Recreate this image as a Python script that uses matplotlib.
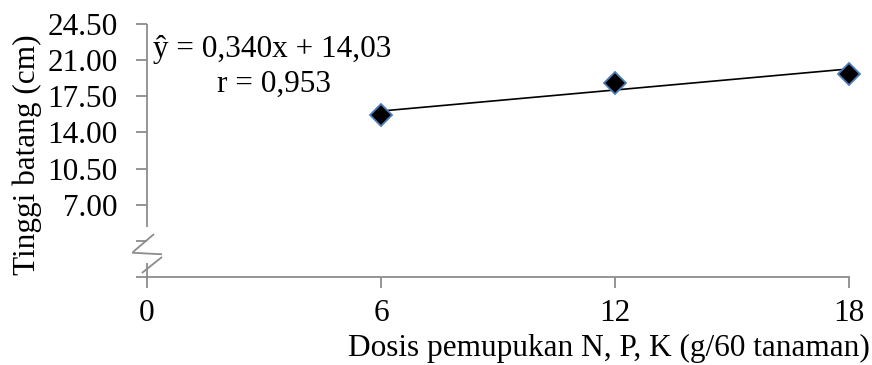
import matplotlib
matplotlib.use("Agg")
import matplotlib.pyplot as plt
import numpy as np

dosis = [6, 12, 18]
tinggi = [15.7, 18.8, 19.7]
slope = 0.340
intercept = 14.03
x_ticks = [0, 6, 12, 18]
y_ticks = [0, 3.5, 7.0, 10.5, 14.0, 17.5, 21.0, 24.5]
y_ticklabels = ["", "", "7.00", "10.50", "14.00", "17.50", "21.00", "24.50"]

FS = 22.5
plt.rcParams['font.family'] = ['Liberation Serif', 'DejaVu Serif']
fig = plt.figure(figsize=(8.72, 3.65), dpi=100)
ax = fig.add_axes([147/872, 1-277/365, (849-147)/872, (277-24)/365])

xs = np.array([dosis[0], dosis[-1]])
ax.plot(xs, slope*xs + intercept, color='black', lw=1.2, zorder=2)
ax.plot(dosis, tinggi, linestyle='none', marker='D', ms=11, mfc='black',
        mec='#4a7ebb', mew=1.3, zorder=3, clip_on=False)

ax.set_xlim(0, 18)
ax.set_ylim(0, 24.5)
ax.set_xticks(x_ticks)
ax.set_xticklabels([str(v) for v in x_ticks])
ax.set_yticks(y_ticks)
ax.set_yticklabels(y_ticklabels)
for s in ['top', 'right']:
    ax.spines[s].set_visible(False)
gray = '#8c8c8c'
ax.spines['bottom'].set_color(gray)
ax.spines['bottom'].set_linewidth(1.3)
ax.spines['left'].set_visible(False)
ax.tick_params(axis='both', colors=gray, width=1.3, length=8, labelsize=FS,
               labelcolor='black')
ax.tick_params(axis='y', pad=13)
ax.tick_params(axis='x', pad=8)

# left spine with axis break
kw = dict(color=gray, lw=1.3, clip_on=False, solid_capstyle='butt')
ax.plot([0, 0], [24.5, 4.84], **kw)
ax.plot([0, 0], [1.35, 0], **kw)
ax.plot([-0.36, 0.18], [2.42, 4.16], **kw)
ax.plot([-0.13, 0.385], [0.39, 1.94], **kw)
ax.plot([-0.385, 0.385], [2.35, 2.2], **kw)

ax.text(0.154, 21.33, "ŷ = 0,340x + 14,03", fontsize=FS, va='baseline', ha='left')
ax.text(1.80, 17.94, "r = 0,953", fontsize=FS, va='baseline', ha='left')

fig.text(27/872, 1-155/365, "Tinggi batang (cm)", rotation=90, fontsize=FS,
         ha='center', va='center')
fig.text(870/872, 1-348/365, "Dosis pemupukan N, P, K (g/60 tanaman)", fontsize=FS,
         ha='right', va='center')

fig.savefig("out.png", dpi=100)
